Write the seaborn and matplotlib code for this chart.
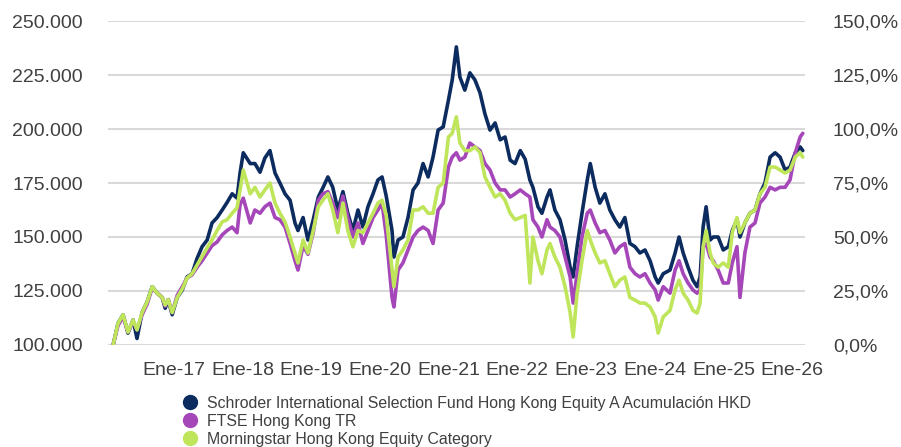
import seaborn as sns
import matplotlib.pyplot as plt
import matplotlib.dates as mdates
import pandas as pd
from matplotlib.lines import Line2D
from matplotlib.ticker import FuncFormatter, MultipleLocator

# fechas de observación
dates = [
    "2016-02-13", "2016-03-10", "2016-04-06", "2016-05-02", "2016-05-29", "2016-06-19",
    "2016-07-16", "2016-08-12", "2016-09-08", "2016-10-04", "2016-10-31", "2016-11-16",
    "2016-12-02", "2016-12-23", "2017-01-19", "2017-02-15", "2017-03-12", "2017-04-08",
    "2017-05-04", "2017-05-31", "2017-06-27", "2017-07-23", "2017-08-19", "2017-09-15",
    "2017-10-11", "2017-11-07", "2017-12-03", "2017-12-19", "2018-01-05", "2018-02-11",
    "2018-03-08", "2018-04-04", "2018-04-30", "2018-05-27", "2018-06-23", "2018-07-19",
    "2018-08-15", "2018-09-11", "2018-10-07", "2018-10-23", "2018-11-19", "2018-12-15",
    "2019-01-12", "2019-02-08", "2019-03-04", "2019-03-31", "2019-04-26", "2019-05-23",
    "2019-06-19", "2019-07-15", "2019-08-11", "2019-09-07", "2019-10-03", "2019-10-30",
    "2019-11-26", "2019-12-22", "2020-01-13", "2020-02-04", "2020-03-06", "2020-03-16",
    "2020-04-07", "2020-05-03", "2020-05-30", "2020-06-26", "2020-07-22", "2020-08-18",
    "2020-09-14", "2020-10-10", "2020-11-06", "2020-12-03", "2020-12-31", "2021-01-20",
    "2021-02-11", "2021-03-02", "2021-03-28", "2021-04-24", "2021-05-21", "2021-06-17",
    "2021-07-13", "2021-08-09", "2021-09-05", "2021-10-02", "2021-10-28", "2021-11-24",
    "2021-12-20", "2022-01-17", "2022-02-12", "2022-03-09", "2022-03-25", "2022-04-21",
    "2022-05-12", "2022-06-08", "2022-06-24", "2022-07-20", "2022-08-16", "2022-09-12",
    "2022-10-09", "2022-10-25", "2022-11-15", "2022-12-11", "2023-01-08", "2023-01-24",
    "2023-02-19", "2023-03-16", "2023-04-12", "2023-05-08", "2023-06-04", "2023-06-30",
    "2023-07-27", "2023-08-23", "2023-09-19", "2023-10-15", "2023-11-11", "2023-12-08",
    "2024-01-04", "2024-01-20", "2024-02-16", "2024-03-23", "2024-04-19", "2024-05-10",
    "2024-06-01", "2024-06-27", "2024-07-23", "2024-08-14", "2024-08-30", "2024-09-15",
    "2024-10-01", "2024-10-22", "2024-11-08", "2024-12-04", "2024-12-31", "2025-01-27",
    "2025-02-17", "2025-03-14", "2025-03-30", "2025-04-25", "2025-05-22", "2025-06-18",
    "2025-07-14", "2025-08-10", "2025-09-06", "2025-10-03", "2025-10-29", "2025-11-25",
    "2025-12-21", "2026-01-18", "2026-02-13", "2026-02-27",
]

# valor de 100.000 invertidos, en miles
fund_k = [
    100, 110, 114, 105.5, 111.6, 103, 115, 120, 127, 124, 122, 117,
    121, 114, 122, 125.5, 131.5, 133, 140, 145.5, 148.6, 156.5, 159, 162.5,
    166, 170, 168, 179.6, 189, 184, 184, 180, 186.6, 190, 179.6, 175,
    170, 167, 156.5, 153, 159, 148.6, 158, 168.5, 172.7, 177.8, 173, 162.5,
    171, 161, 153, 162.5, 154.6, 164, 170, 176.4, 177.8, 169, 153, 140.7,
    148.6, 150, 159, 171.8, 175, 184, 177.8, 187, 199.5, 201, 213.4, 222.7,
    238, 224, 218, 226, 222.7, 216.7, 207, 199.5, 202.8, 195, 196.3, 185.6,
    184, 190, 186, 176.4, 173, 164, 161, 168.5, 171.8, 162.5, 158, 148.6,
    136, 131.5, 145.5, 161, 176.4, 184, 173, 165.7, 170, 162.5, 158, 154.6,
    159, 147, 145.5, 142.6, 144, 139, 131.5, 128.7, 133, 134.7, 142.6, 150,
    142.6, 136, 130, 127, 131.5, 154.6, 164, 148.6, 150, 150, 144, 145.5,
    153, 158, 150, 156.5, 161, 162.5, 170, 175, 187, 189, 187, 181,
    182.4, 189, 191.7, 190,
]

ftse_k = [
    100, 109, 113, 106, 111, 107, 114, 119, 126.5, 124, 122, 118,
    121, 115, 123, 127, 131, 132.5, 136, 139, 142.6, 146, 147.7, 151,
    153, 154.6, 152, 165, 168, 156.5, 162.5, 161, 164, 165.7, 159, 158,
    154.6, 147, 139, 134.7, 146, 142, 152, 167, 170, 171, 165.7, 159,
    169, 159, 150, 156.5, 147, 153, 159, 162.5, 165.7, 151, 122, 117.6,
    134.7, 138, 144, 150, 153, 154.6, 153, 147, 162.5, 165.7, 182.4, 187,
    189, 185.6, 187, 193.5, 191.7, 190, 184, 181, 175, 171.8, 171.8, 168.5,
    170, 171.8, 170, 168.5, 158, 154.6, 150, 158, 154.6, 153, 150, 140.7,
    131.5, 119.4, 133, 150, 161, 162.5, 156.5, 152, 153, 148.6, 142.6, 145.5,
    147, 136, 133, 131.5, 133, 128.7, 125.5, 120.8, 127, 124, 134.7, 139,
    133, 128.7, 125.5, 124, 125.5, 145.5, 147, 140.7, 139, 134.7, 128.7, 128.7,
    138, 145.5, 122, 142.6, 154.6, 156.5, 165.7, 168.5, 173, 171.8, 173, 173,
    176.4, 189, 196.3, 198,
]

category_k = [
    100, 110, 114, 106, 111.6, 107, 115, 120, 127, 124, 122, 118.5,
    121, 115, 122, 126, 131, 133, 137, 141, 145, 148.6, 153, 157,
    158, 161, 163.5, 171.8, 181, 170, 173, 168.5, 171.8, 175, 165.7, 161,
    157, 150, 142.6, 138, 148.6, 142.6, 153, 164, 167, 170, 162.5, 152,
    165.7, 153, 145.5, 153, 152, 156.5, 161, 165.7, 167, 160, 134.7, 127,
    140.7, 144, 148.6, 162.5, 162.5, 164, 161, 161, 173, 175, 196.3, 198,
    205.6, 193.5, 190, 190, 191.7, 189, 177.8, 173, 168.5, 170, 167, 161,
    158, 159, 160, 128.7, 150, 139, 133, 144, 147, 140.7, 136, 127,
    115, 103.7, 124, 139, 153, 148.6, 142.6, 138, 139, 133, 127, 130,
    131.5, 122, 120.8, 119.4, 119.4, 117.6, 113, 105.5, 113, 116, 125.5, 130,
    124, 120.8, 116, 114.8, 119.4, 145.5, 153, 142.6, 138, 136, 138, 136,
    152, 159, 152, 156.5, 161, 162.5, 170, 173, 182.4, 182.4, 181, 179.6,
    181, 187, 189, 187,
]

names = [
    "Schroder International Selection Fund Hong Kong Equity A Acumulación HKD",
    "FTSE Hong Kong TR",
    "Morningstar Hong Kong Equity Category",
]
colors = ["#0c2b5f", "#a546b9", "#bfe55b"]

sns.set_theme(style="white")
plt.rcParams['font.family'] = ['Liberation Sans', 'DejaVu Sans']

# long format para seaborn
data = pd.DataFrame({"fecha": pd.to_datetime(dates),
                     names[0]: fund_k, names[1]: ftse_k, names[2]: category_k})
data = data.melt(id_vars="fecha", var_name="serie", value_name="valor")
data["valor"] = data["valor"] * 1000

fig = plt.figure(figsize=(9.01, 4.47), dpi=100)
ax = fig.add_axes([0.1199, 0.2282, 0.7736, 0.7248])

sns.lineplot(data=data, x="fecha", y="valor", hue="serie", hue_order=names,
             palette=colors, linewidth=2.6, legend=False, ax=ax)

ax.set_ylim(100000, 250000)
ax.yaxis.set_major_locator(MultipleLocator(25000))
ax.yaxis.set_major_formatter(FuncFormatter(lambda v, p: f"{v:,.0f}".replace(",", ".")))
ax.set_xlim(pd.Timestamp("2016-01-17"), pd.Timestamp("2026-03-11"))
ax.xaxis.set_major_locator(mdates.YearLocator())
ax.xaxis.set_major_formatter(FuncFormatter(lambda v, p: "Ene-" + mdates.num2date(v).strftime("%y")))
ax.set_xlabel("")
ax.set_ylabel("")
ax.yaxis.grid(True, color="#d9d9d9", linewidth=1.5)
ax.set_axisbelow(True)
ax.tick_params(axis="y", length=0, pad=18, labelsize=14, labelcolor="#404040")
ax.tick_params(axis="x", length=0, pad=12, labelsize=14, labelcolor="#404040")
for s in ax.spines.values():
    s.set_visible(False)

# eje derecho en porcentaje
ax2 = ax.twinx()
ax2.set_ylim(0, 1.5)
ax2.yaxis.set_major_locator(MultipleLocator(0.25))
ax2.yaxis.set_major_formatter(FuncFormatter(lambda v, p: f"{v * 100:.1f}%".replace(".", ",")))
ax2.tick_params(axis="y", length=0, pad=20, labelsize=14, labelcolor="#404040")
for s in ax2.spines.values():
    s.set_visible(False)

handles = [Line2D([], [], marker="o", linestyle="", markersize=10, color=c) for c in colors]
fig.legend(handles, names, loc="upper left", bbox_to_anchor=(0.202, 0.115),
           frameon=False, fontsize=11.4, labelcolor="#404040", borderpad=0,
           handlelength=1, handletextpad=0.55, labelspacing=0.2, borderaxespad=0)

fig.savefig("out.png", dpi=100)
